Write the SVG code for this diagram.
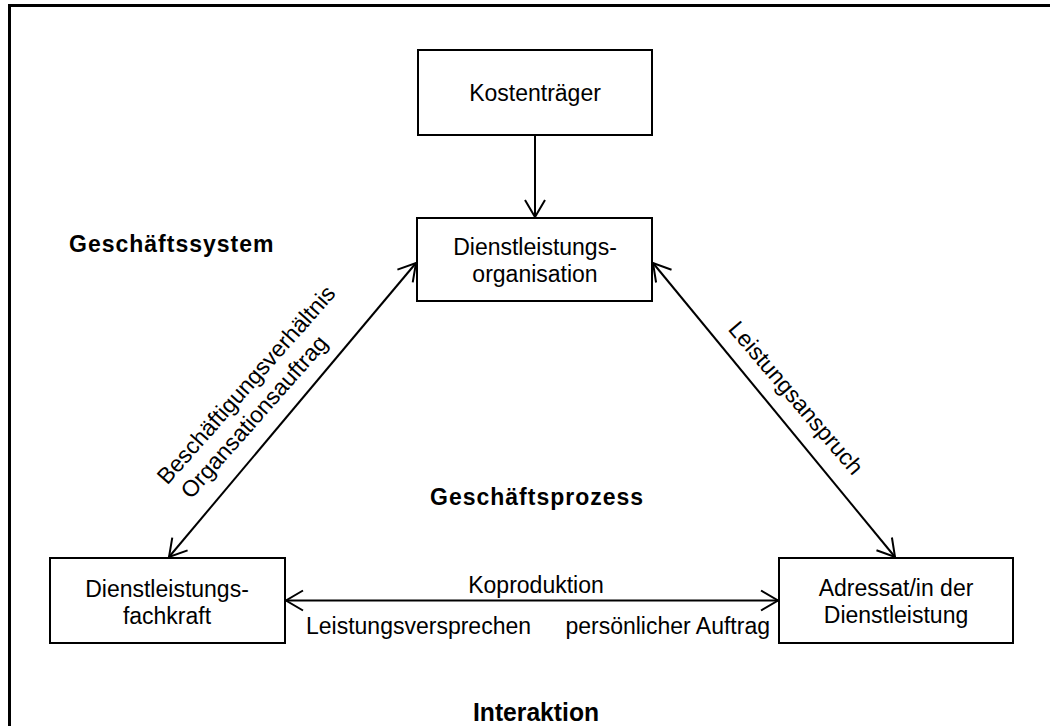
<svg xmlns="http://www.w3.org/2000/svg" width="1050" height="726" viewBox="0 0 1050 726">
<style>
.box{fill:#fff;stroke:#000;stroke-width:2}
.t{font-family:"Liberation Sans",Arial,sans-serif;font-size:23px;fill:#000}
.c{text-anchor:middle}
.b{font-family:"Liberation Sans",Arial,sans-serif;font-size:23px;font-weight:bold;fill:#000;letter-spacing:1px}
.con{stroke:#000;stroke-width:2;fill:none}
</style>
<defs>
<marker id="ah" markerUnits="userSpaceOnUse" markerWidth="24" markerHeight="24" viewBox="-20 -12 22 24" refX="0" refY="0" orient="auto-start-reverse">
<path d="M -17 -10 L 0 0 L -17 10" fill="none" stroke="#000" stroke-width="2"/>
</marker>
</defs>
<rect x="9.5" y="5.5" width="1100" height="800" fill="none" stroke="#000" stroke-width="3"/>
<g id="connectors">
<line class="con" x1="535" y1="135" x2="535" y2="217" marker-end="url(#ah)"/>
<line class="con" x1="169" y1="557" x2="416" y2="263" marker-start="url(#ah)" marker-end="url(#ah)"/>
<line class="con" x1="653" y1="263" x2="895" y2="557" marker-start="url(#ah)" marker-end="url(#ah)"/>
<line class="con" x1="286" y1="600.5" x2="778" y2="600.5" marker-start="url(#ah)" marker-end="url(#ah)"/>
<text class="t" transform="translate(252,390) rotate(-48.5)" text-anchor="middle">Beschäftigungsverhältnis</text>
<text class="t" transform="translate(260,422) rotate(-48.5)" text-anchor="middle">Organsationsauftrag</text>
<text class="t" transform="translate(790,403) rotate(49.5)" text-anchor="middle">Leistungsanspruch</text>
<text class="t c" x="536" y="593">Koproduktion</text>
<text class="t" x="306" y="634">Leistungsversprechen</text>
<text class="t" x="770" y="634" text-anchor="end">persönlicher Auftrag</text>
</g>
<g id="kostentraeger">
<rect class="box" x="418" y="50" width="234" height="85"/>
<text class="t c" x="535" y="101">Kostenträger</text>
</g>
<g id="organisation">
<rect class="box" x="417" y="218" width="235" height="83"/>
<text class="t c" x="535" y="255">Dienstleistungs-</text>
<text class="t c" x="535" y="282">organisation</text>
</g>
<g id="fachkraft">
<rect class="box" x="50" y="558" width="235" height="85"/>
<text class="t c" x="167" y="597">Dienstleistungs-</text>
<text class="t c" x="167" y="624">fachkraft</text>
</g>
<g id="adressat">
<rect class="box" x="779" y="558" width="234" height="85"/>
<text class="t c" x="896" y="596">Adressat/in der</text>
<text class="t c" x="896" y="623">Dienstleistung</text>
</g>
<g id="labels">
<text class="b" x="69" y="252">Geschäftssystem</text>
<text class="b" x="430" y="505">Geschäftsprozess</text>
<text class="b" x="536" y="721" text-anchor="middle" letter-spacing="0" textLength="126" lengthAdjust="spacingAndGlyphs" style="font-size:25px;letter-spacing:0">Interaktion</text>
</g>
</svg>
